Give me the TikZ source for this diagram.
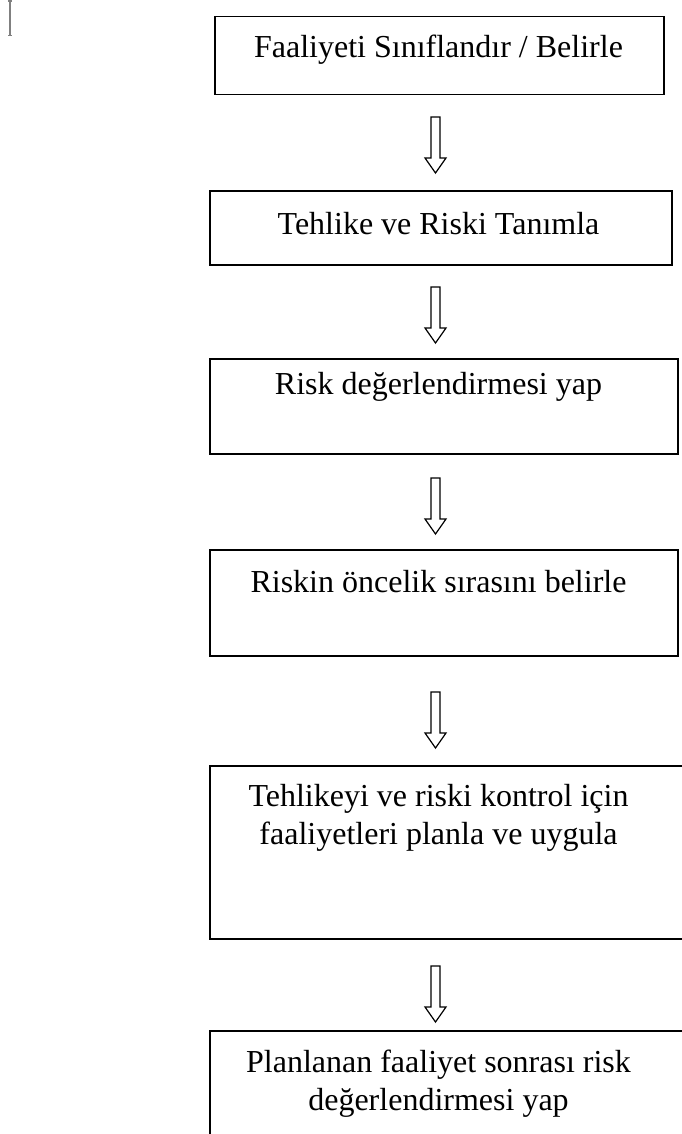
\documentclass[tikz,border=0pt]{standalone}
\usepackage{fontspec}
\setmainfont{Liberation Serif}
\usetikzlibrary{positioning, calc}

\begin{document}
\begin{tikzpicture}[
  x=1pt, y=-1pt,
  stepbox/.style={draw, rectangle, line width=1.5pt, inner sep=0pt, anchor=north west},
  steptext/.style={anchor=base, align=center, inner sep=0pt, font=\fontsize{32}{38}\selectfont},
  downarrow/.pic={
    \draw[line width=1.2pt, line join=miter] (-4.5,0) -- (4.5,0) -- (4.5,41) -- (10.5,41)
      -- (0,56) -- (-10.5,41) -- (-4.5,41) -- cycle;
  }
]
\useasboundingbox (0,0) rectangle (682,1134);
\clip (0,0) rectangle (682,1134);

% cursor mark
\draw[gray, line width=2pt] (9.6,1) -- (9.6,35);
\draw[gray, line width=1.5pt] (8,1) -- (12.2,1) (8,35.5) -- (12.2,35.5);

% boxes
\node[stepbox, minimum width=449pt, minimum height=78pt] (b1) at (214,16) {};
\node[stepbox, minimum width=462pt, minimum height=74pt] (b2) at (209,190) {};
\node[stepbox, minimum width=468pt, minimum height=95pt] (b3) at (209,358) {};
\node[stepbox, minimum width=468pt, minimum height=106pt] (b4) at (209,549) {};
\node[stepbox, minimum width=480pt, minimum height=173pt] (b5) at (209,765) {};
\node[stepbox, minimum width=480pt, minimum height=120pt] (b6) at (209,1030) {};

% texts (base = last line)
\node[steptext] (t1) at (438.5,58) {Faaliyeti Sınıflandır / Belirle};
\node[steptext] (t2) at (438.5,234) {Tehlike ve Riski Tanımla};
\node[steptext] (t3) at (438.5,394) {Risk değerlendirmesi yap};
\node[steptext] (t4) at (438.5,592) {Riskin öncelik sırasını belirle};
\node[steptext] (t5) at (438.5,844) {Tehlikeyi ve riski kontrol için\\faaliyetleri planla ve uygula};
\node[steptext] (t6) at (438.5,1110) {Planlanan faaliyet sonrası risk\\değerlendirmesi yap};

% arrows
\pic (a1) at (435.5,117) {downarrow};
\pic (a2) at (435.5,287) {downarrow};
\pic (a3) at (435.5,478) {downarrow};
\pic (a4) at (435.5,692) {downarrow};
\pic (a5) at (435.5,966) {downarrow};

\end{tikzpicture}
\end{document}
